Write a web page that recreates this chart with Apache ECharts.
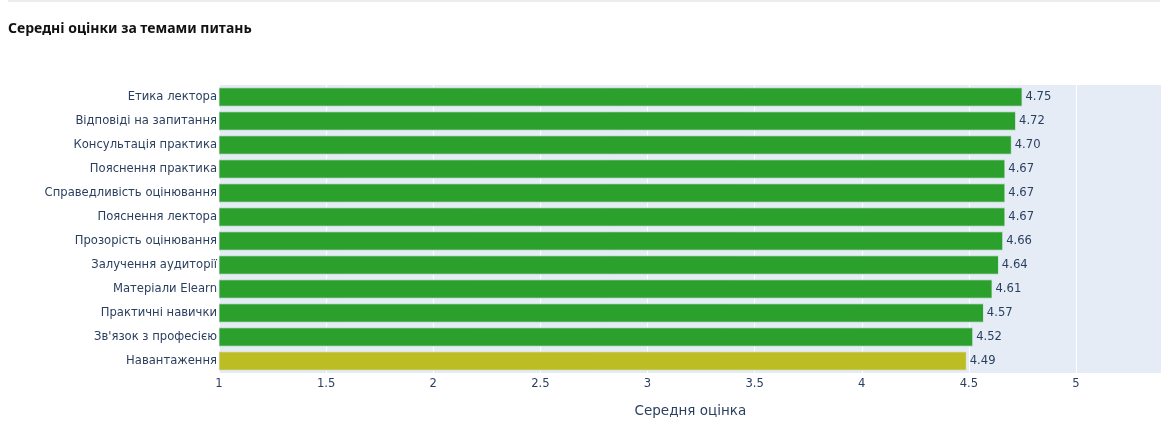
<!DOCTYPE html>
<html>
<head>
<meta charset="utf-8">
<script src="https://cdn.jsdelivr.net/npm/echarts@6/dist/echarts.min.js"></script>
<style>html,body{margin:0;padding:0;background:#fff}#c{width:1167px;height:426px}</style>
</head>
<body>
<div id="c"></div>
<script>
const categories = ["Етика лектора","Відповіді на запитання","Консультація практика","Пояснення практика","Справедливість оцінювання","Пояснення лектора","Прозорість оцінювання","Залучення аудиторії","Матеріали Elearn","Практичні навички","Зв'язок з професією","Навантаження"];
const values = [4.75,4.72,4.70,4.67,4.67,4.67,4.66,4.64,4.61,4.57,4.52,4.49];
const barColors = ["#2ca02c","#2ca02c","#2ca02c","#2ca02c","#2ca02c","#2ca02c","#2ca02c","#2ca02c","#2ca02c","#2ca02c","#2ca02c","#bcbd22"];
const xTicks = {min:1, max:5.4, interval:0.5};

const font = '"DejaVu Sans", Verdana, sans-serif';
const chart = echarts.init(document.getElementById('c'), null, {renderer:'canvas'});
chart.setOption({
  animation:false,
  textStyle:{fontFamily:font},
  title:{text:'Середні оцінки за темами питань', left:8, top:22, padding:0,
    textStyle:{fontFamily:'"Noto Sans", sans-serif', fontSize:14, fontWeight:'bold', color:'#111'}},
  graphic:[{type:'rect', left:8, top:0, shape:{width:1152, height:2}, style:{fill:'#ececec'}}],
  grid:{left:219, right:5.3, top:85, bottom:53, show:true, backgroundColor:'#E5ECF6', borderWidth:0,
    outerBoundsMode:'none', containLabel:false},
  xAxis:{type:'value', min:xTicks.min, max:xTicks.max, interval:xTicks.interval,
    name:'Середня оцінка', nameLocation:'middle', nameGap:31,
    nameTextStyle:{fontFamily:font, fontSize:13.5, color:'#2a3f5f'},
    axisLine:{show:false}, axisTick:{show:false},
    axisLabel:{fontFamily:font, fontSize:11.6, color:'#2a3f5f', margin:5, showMaxLabel:false},
    splitLine:{lineStyle:{color:'#ffffff', width:1}}},
  yAxis:{type:'category', data:categories, inverse:true,
    axisLine:{show:false}, axisTick:{show:false}, splitLine:{show:false},
    axisLabel:{fontFamily:font, fontSize:11.6, color:'#2a3f5f', margin:2}},
  series:[{type:'bar', barCategoryGap:'20%',
    data: values.map((v,i)=>({value:v, itemStyle:{color:barColors[i]}})),
    itemStyle:{borderColor:'#E5ECF6', borderWidth:0.8},
    label:{show:true, position:'right', distance:3, fontFamily:font, fontSize:11.6, color:'#2a3f5f',
      formatter:p=>p.value.toFixed(2)}}]
});
</script>
</body>
</html>
